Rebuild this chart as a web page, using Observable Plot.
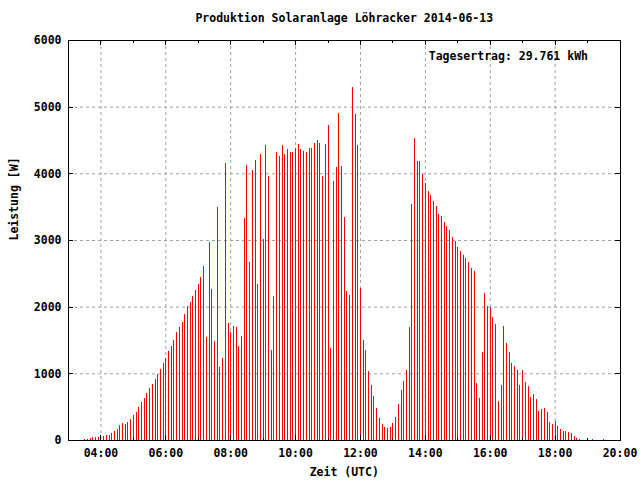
<!DOCTYPE html>
<html><head><meta charset="utf-8">
<script src="https://cdn.jsdelivr.net/npm/d3@7"></script>
<script src="https://cdn.jsdelivr.net/npm/@observablehq/plot@0.6"></script>
<style>body{margin:0;background:#fff} svg{display:block}</style>
</head><body><div id="chart"></div>
<script>
const title = "Produktion Solaranlage Löhracker 2014-06-13";
const xLabel = "Zeit (UTC)";
const yLabel = "Leistung [W]";
const yieldLabel = "Tagesertrag: 29.761 kWh";
const startTime = "03:30";
const stepMinutes = 5;
// power in W, one value per 5 minutes from 03:30
const power = [
  15, 15, 25, 40, 50, 50,                                              // 03:30-03:55
  65, 65, 80, 80, 105, 135, 165, 225, 255, 240, 270, 315,              // 04
  375, 420, 495, 570, 630, 705, 780, 840, 915, 990, 1065, 1155,        // 05
  1230, 1335, 1410, 1500, 1620, 1695, 1770, 1890, 2010, 2070, 2160, 2250, // 06
  2340, 2445, 2610, 1545, 2970, 2265, 1485, 3495, 1095, 1230, 4155, 1755, // 07
  1620, 1710, 1695, 1410, 1560, 3330, 4125, 2670, 4050, 4200, 2340, 4290, // 08
  3015, 4425, 3960, 1350, 2160, 4320, 4260, 4425, 4290, 4365, 4320, 4320, // 09
  4380, 4440, 4365, 4335, 4320, 4380, 4380, 4455, 4500, 4455, 3960, 4440, // 10
  4725, 1380, 3885, 4095, 4905, 4110, 3345, 2235, 2175, 5295, 4890, 4425, // 11
  2280, 1500, 1350, 1035, 825, 660, 480, 330, 240, 195, 180, 195,      // 12
  255, 345, 540, 750, 885, 1050, 1695, 3540, 4530, 4185, 4185, 3990,   // 13
  3855, 3735, 3675, 3585, 3510, 3390, 3360, 3270, 3210, 3150, 3045, 2985, // 14
  2895, 2835, 2775, 2730, 2670, 2580, 2535, 855, 630, 1320, 2205, 2010, // 15
  1995, 1845, 1740, 585, 825, 1710, 1455, 1320, 1155, 1110, 1050, 825, // 16
  1050, 870, 810, 645, 690, 615, 435, 465, 480, 420, 270, 240,         // 17
  285, 210, 165, 135, 135, 120, 105, 60, 30, 15, 0, 0,                 // 18
  0, 0, 15, 0, 0, 0, 15                                                // 19
];
const xMajorTicks = ["04:00","06:00","08:00","10:00","12:00","14:00","16:00","18:00","20:00"];
const xMinorTicks = ["05:00","07:00","09:00","11:00","13:00","15:00","17:00","19:00"];
const yTicks = [0, 1000, 2000, 3000, 4000, 5000, 6000];
const xDomain = ["03:00", "20:00"];

const toHours = s => { const [h, m] = s.split(":").map(Number); return h + m / 60; };
const t0 = toHours(startTime);
const rows = power.map((w, i) => ({t: t0 + i * stepMinutes / 60, w})).filter(d => d.w > 0);
const major = xMajorTicks.map(toHours);
const minor = xMinorTicks.map(toHours);
const fmt = h => String(Math.floor(h)).padStart(2, "0") + ":00";

const font = "'DejaVu Sans Mono', monospace";
const ml = 68, mr = 20.5, mt = 40, mb = 40, W = 640, H = 480;
const fw = W - ml - mr, fh = H - mt - mb;
const grid = {stroke: "#a0a0a0", strokeWidth: 1, strokeDasharray: "3,3", strokeOpacity: 1};

const chart = Plot.plot({
  width: W, height: H,
  marginLeft: ml, marginRight: mr, marginTop: mt, marginBottom: mb,
  style: {fontFamily: font, fontSize: "11.5px", fontWeight: "bold", background: "white", color: "black"},
  x: {domain: xDomain.map(toHours), label: null},
  y: {domain: [0, 6000], label: null},
  marks: [
    Plot.ruleX(major.slice(0, -1), {...grid}),
    Plot.ruleY(yTicks.slice(1, -1), {...grid}),
    Plot.ruleX(rows, {x: "t", y1: 0, y2: "w", stroke: "#ff0000", strokeWidth: 1, shapeRendering: "crispEdges"}),
    Plot.frame({stroke: "black", strokeWidth: 1, shapeRendering: "crispEdges"}),
    Plot.ruleX(major, {insetTop: fh - 5, stroke: "black", shapeRendering: "crispEdges"}),
    Plot.ruleX(major, {insetBottom: fh - 5, stroke: "black", shapeRendering: "crispEdges"}),
    Plot.ruleX(minor, {insetTop: fh - 2.5, stroke: "black", shapeRendering: "crispEdges"}),
    Plot.ruleX(minor, {insetBottom: fh - 2.5, stroke: "black", shapeRendering: "crispEdges"}),
    Plot.ruleY(yTicks, {insetRight: fw - 5, stroke: "black", shapeRendering: "crispEdges"}),
    Plot.ruleY(yTicks, {insetLeft: fw - 5, stroke: "black", shapeRendering: "crispEdges"}),
    Plot.axisX(major, {tickSize: 0, tickPadding: 8, tickFormat: fmt, label: null}),
    Plot.axisY(yTicks, {tickSize: 0, tickPadding: 7, tickFormat: d => String(d), label: null}),
    Plot.text([title], {text: d => d, frameAnchor: "top", dy: -22, lineAnchor: "middle"}),
    Plot.text([xLabel], {text: d => d, frameAnchor: "bottom", dy: 32, lineAnchor: "middle"}),
    Plot.text([yLabel], {text: d => d, frameAnchor: "left", dx: -54, rotate: -90, lineAnchor: "middle"}),
    Plot.text([yieldLabel], {text: d => d, frameAnchor: "top-right", dx: -32, dy: 16, textAnchor: "end", lineAnchor: "middle"})
  ]
});
document.getElementById("chart").appendChild(chart);
</script>
</body></html>
